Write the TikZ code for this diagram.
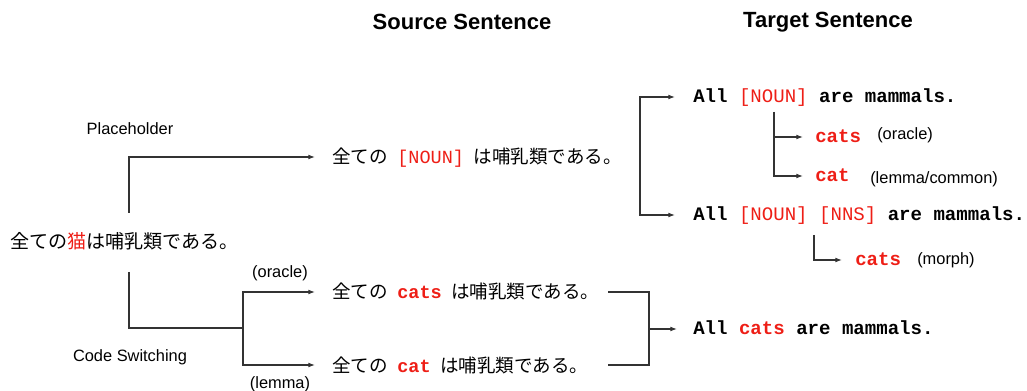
\documentclass[tikz,border=0pt]{standalone}
\usepackage{fontspec}
\usepackage{xcolor}
\usepackage{tikz}
\usetikzlibrary{arrows.meta,positioning,calc}
\setsansfont{Liberation Sans}
\setmonofont{Liberation Mono}
\newfontfamily\jpfont{Noto Sans CJK JP}
\definecolor{catred}{RGB}{238,30,22}
\newcommand{\hl}[1]{\textcolor{catred}{#1}}

\begin{document}
\begin{tikzpicture}[x=0.75pt,y=-0.75pt,
  txt/.style={inner sep=0, anchor=west},
  jp/.style={txt, font=\jpfont\fontsize{13.9}{16}\selectfont, text height=12.2pt, text depth=1.7pt},
  tt/.style={txt, font=\ttfamily\bfseries\fontsize{14.3}{16}\selectfont, text height=8.9pt, text depth=0.3pt},
  lbl/.style={inner sep=0, font=\sffamily\fontsize{12.3}{14}\selectfont},
  ttl/.style={inner sep=0, font=\sffamily\bfseries\fontsize{16.5}{20}\selectfont},
  ln/.style={draw=black!80, line width=0.8pt},
  arr/.style={ln, -{Latex[length=5pt,width=3.6pt]}, shorten >=#1},
  biarr/.style={ln, {Latex[length=5pt,width=3.6pt]}-{Latex[length=5pt,width=3.6pt]}, shorten <=#1, shorten >=#1}]
  \useasboundingbox (0,0) rectangle (1027,391);

  % Titles
  \node[ttl] (srctitle) at (462,22) {Source Sentence};
  \node[ttl] (tgttitle) at (828,22) {Target Sentence};

  % Original sentence
  \node[jp, font=\jpfont\fontsize{14.3}{16}\selectfont] (src) at (10,242) {全ての\hl{猫}は哺乳類である。};
  \node[lbl] (ph) at (130,129) {Placeholder};
  \node[lbl] (cs) at (130,357) {Code Switching};

  % Source sentences
  \node[jp] (s1) at (332,157) {全ての\hspace{4pt} \hl{\ttfamily[NOUN]}\hspace{4pt} は哺乳類である。};
  \node[jp] (s2) at (332,292) {全ての\hspace{4pt} \hl{\ttfamily\bfseries cats}\hspace{4pt} は哺乳類である。};
  \node[jp] (s3) at (332,365) {全ての\hspace{4pt} \hl{\ttfamily\bfseries cat}\hspace{4pt} は哺乳類である。};
  \node[lbl] (orc) at (280,273) {(oracle)};
  \node[lbl] (lem) at (280,384) {(lemma)};

  % Target sentences
  \node[tt] (t1) at (693,97) {All \hl{\mdseries[NOUN]} are mammals.};
  \node[tt] (t2) at (693,215) {All \hl{\mdseries[NOUN] [NNS]} are mammals.};
  \node[tt] (t3) at (693,329) {All \hl{cats} are mammals.};

  % Fillers
  \node[tt] (w1) at (815,137) {\hl{cats}};
  \node[tt] (w2) at (815,176) {\hl{cat}};
  \node[tt] (w3) at (855,260) {\hl{cats}};
  \node[lbl, anchor=west] (n1) at (877,135) {(oracle)};
  \node[lbl, anchor=west] (n2) at (870,179) {(lemma/common)};
  \node[lbl, anchor=west] (n3) at (917,260) {(morph)};

  % Placeholder branch
  \coordinate (phroot) at (129,213);
  \draw[arr=12.75pt] (phroot) |- (s1.west);

  % Code switching branch
  \coordinate (csroot) at (129,272);
  \coordinate (cshub) at (243,328);
  \draw[ln] (csroot) |- (cshub);
  \draw[biarr=12.75pt] (s2.west) -| (cshub) |- (s3.west);

  % Placeholder targets
  \coordinate (tbr) at (640,156);
  \draw[biarr=13.5pt] (t1.west) -| (tbr) |- (t2.west);
  \coordinate (noun1) at (774,112);
  \foreach \w in {w1,w2}
    \draw[arr=9pt] (noun1) |- (\w.west);
  \coordinate (nns2) at (814,235);
  \draw[arr=9.75pt] (nns2) |- (w3.west);

  % Code switching target
  \coordinate (mrg) at (649,329);
  \coordinate (mrgl) at (608,329);
  \draw[ln] (mrgl |- s2.west) -| (mrg) |- (mrgl |- s3.west);
  \draw[arr=12pt] (mrg) -- (t3.west);
\end{tikzpicture}
\end{document}
